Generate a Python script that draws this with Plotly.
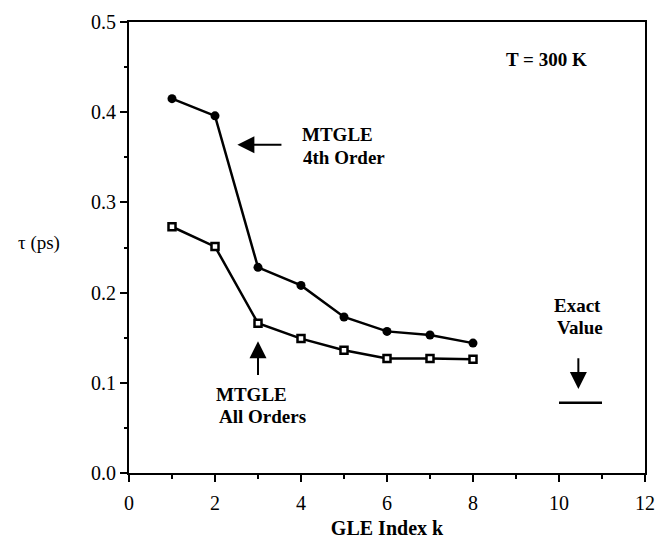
import plotly.graph_objects as go

# GLE index k and relaxation times tau (ps)
k_index = [1, 2, 3, 4, 5, 6, 7, 8]
tau_4th_order = [0.415, 0.396, 0.228, 0.208, 0.173, 0.157, 0.153, 0.144]
tau_all_orders = [0.273, 0.251, 0.166, 0.149, 0.136, 0.127, 0.127, 0.126]
exact_k = [10, 11]
exact_tau = 0.078

FONT = "Liberation Serif"

fig = go.Figure()

fig.add_trace(go.Scatter(
    x=k_index, y=tau_4th_order, mode="lines+markers",
    line=dict(color="black", width=2.5),
    marker=dict(symbol="circle", size=9, color="black"),
    showlegend=False,
))
fig.add_trace(go.Scatter(
    x=k_index, y=tau_all_orders, mode="lines+markers",
    line=dict(color="black", width=2.5),
    marker=dict(symbol="square", size=7, color="white",
                line=dict(color="black", width=2.5)),
    showlegend=False,
))
fig.add_trace(go.Scatter(
    x=exact_k, y=[exact_tau] * len(exact_k), mode="lines",
    line=dict(color="black", width=2.5), showlegend=False,
))

bold = dict(family=FONT, size=19, color="black")


def label(x, y, text, anchor="left"):
    fig.add_annotation(x=x, y=y, text=f"<b>{text}</b>", showarrow=False,
                       xanchor=anchor, font=bold)


# text labels, one line each
label(3.97, 0.375, "MTGLE")
label(4.00, 0.350, "4th Order")
label(8.72, 0.458, "T = 300 K")
label(1.97, 0.0875, "MTGLE")
label(2.04, 0.063, "All Orders")
label(10.42, 0.186, "Exact", "center")
label(10.48, 0.1615, "Value", "center")

# arrows
arrow = dict(showarrow=True, arrowhead=2, arrowsize=1.7, arrowwidth=2,
             arrowcolor="black", axref="x", ayref="y", text="")
fig.add_annotation(x=2.52, y=0.364, ax=3.58, ay=0.364, **arrow)
fig.add_annotation(x=3.0, y=0.146, ax=3.0, ay=0.107, **arrow)
fig.add_annotation(x=10.45, y=0.093, ax=10.45, ay=0.129, **arrow)

axis_common = dict(
    showline=True, linecolor="black", linewidth=2, mirror=True,
    showgrid=False, zeroline=False, ticks="outside", ticklen=7,
    tickwidth=2, tickcolor="black", automargin=False,
    tickfont=dict(family=FONT, size=20, color="black"),
)

fig.update_xaxes(
    range=[0, 12], tickvals=[0, 2, 4, 6, 8, 10, 12], ticklabelstandoff=4,
    minor=dict(dtick=1, ticks="outside", ticklen=4, tickwidth=2, tickcolor="black"),
    title=dict(text="<b>GLE Index k</b>", font=dict(family=FONT, size=20, color="black"),
               standoff=8),
    **axis_common,
)
fig.update_yaxes(
    range=[0, 0.5], tickvals=[0, 0.1, 0.2, 0.3, 0.4, 0.5], tickformat=".1f",
    minor=dict(dtick=0.05, ticks="outside", ticklen=3, tickwidth=2, tickcolor="black"),
    title=dict(text=""),
    **axis_common,
)

fig.add_annotation(xref="paper", yref="paper", x=-0.175, y=0.509, text="τ (ps)",
                   showarrow=False, xanchor="center",
                   font=dict(family=FONT, size=19, color="black"))

fig.update_layout(
    width=666, height=543,
    margin=dict(l=129, r=21, t=22, b=70),
    plot_bgcolor="white", paper_bgcolor="white",
)

fig.write_html("out.html")
